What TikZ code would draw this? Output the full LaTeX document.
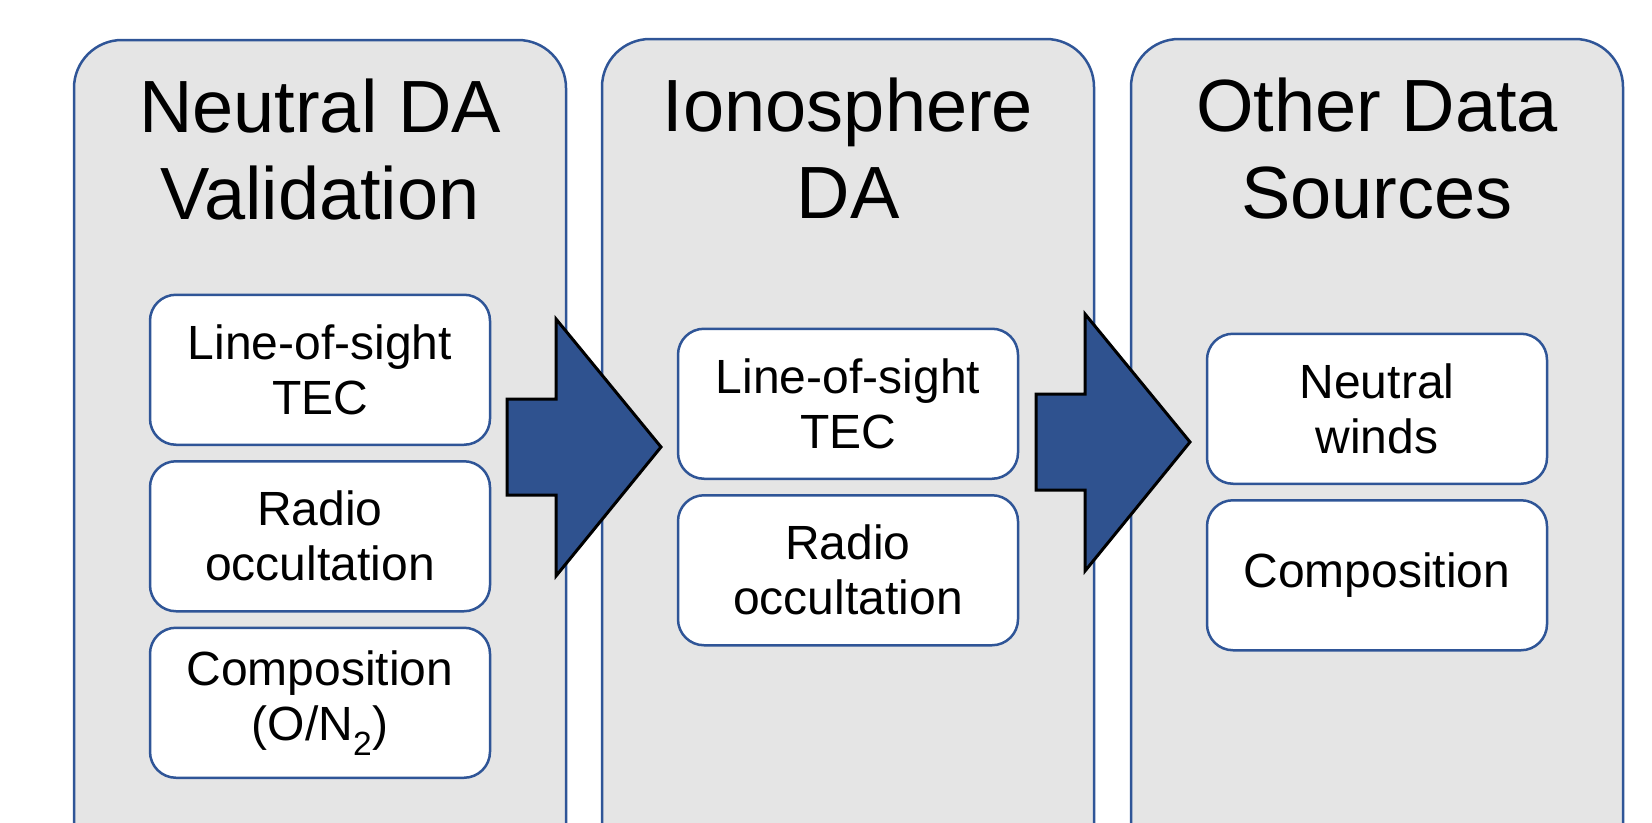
\documentclass[tikz,border=0pt]{standalone}
\usepackage{fontspec}
\setmainfont{Liberation Sans}
\usetikzlibrary{positioning}
\definecolor{panelgray}{HTML}{E5E5E5}
\definecolor{edgeblue}{HTML}{2F5597}
\definecolor{arrowblue}{HTML}{2F528F}

\begin{document}
\begin{tikzpicture}[x=1pt,y=-1pt,
    panel/.style={draw=edgeblue,fill=panelgray,line width=2.5pt,rounded corners=48pt,minimum width=492pt,minimum height=860pt,inner sep=0pt},
    heading/.style={anchor=north,align=center,inner sep=0pt,font=\fontsize{74}{87}\selectfont},
    srcbox/.style={draw=edgeblue,fill=white,line width=2.5pt,rounded corners=26pt,minimum width=340pt,minimum height=150pt,align=center,inner sep=0pt,font=\fontsize{48}{55}\selectfont},
    bigarrow/.style={fill=arrowblue,draw=black,line width=3pt,line join=miter}]
    \useasboundingbox (0,0) rectangle (1652,822);
    \clip (0,0) rectangle (1652,822);
    % the three columns, cut off at the bottom
    \node[panel] (neutral) at (320,470) {};
    \node[panel] (iono) at (848,469) {};
    \node[panel] (other) at (1377,469) {};
    \node[heading] (neutraltitle) at ([yshift=-40pt]neutral.north) {Neutral DA\\Validation};
    \node[heading] (ionotitle) at ([yshift=-40pt]iono.north) {Ionosphere\\DA};
    \node[heading] (othertitle) at ([yshift=-40pt]other.north) {Other Data\\Sources};
    % data boxes
    \node[srcbox] (neutraltec) at ([yshift=-331pt]neutral.north) {Line-of-sight\\TEC};
    \node[srcbox, below=14pt of neutraltec] (neutralro) {Radio\\occultation};
    \node[srcbox, below=14pt of neutralro] (neutralcomp) {Composition\\(O/N\textsubscript{2})};
    \node[srcbox] (ionotec) at ([yshift=-366pt]iono.north) {Line-of-sight\\TEC};
    \node[srcbox, below=14pt of ionotec] (ionoro) {Radio\\occultation};
    \node[srcbox] (otherwinds) at ([yshift=-371pt]other.north) {Neutral\\winds};
    \node[srcbox, below=14pt of otherwinds] (othercomp) {Composition};
    % block arrows between the columns
    \coordinate (arrowa) at (507,447);
    \coordinate (arrowb) at (1036,442);
    \filldraw[bigarrow] (arrowa) ++(0,-48) -- ++(49,0) -- ++(0,-80) -- ++(105,128) -- ++(-105,129) -- ++(0,-81) -- ++(-49,0) -- cycle;
    \filldraw[bigarrow] (arrowb) ++(0,-48) -- ++(49,0) -- ++(0,-80) -- ++(105,128) -- ++(-105,129) -- ++(0,-81) -- ++(-49,0) -- cycle;
\end{tikzpicture}
\end{document}
